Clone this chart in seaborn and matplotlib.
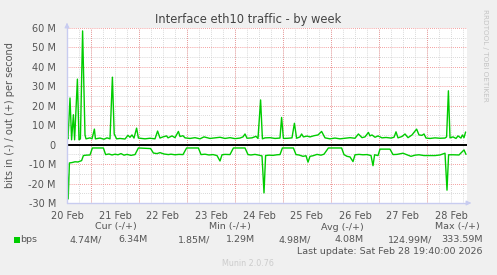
import matplotlib
matplotlib.use("Agg")
import matplotlib.pyplot as plt
import seaborn as sns
import pandas as pd
import numpy as np
from matplotlib.ticker import FixedLocator, FuncFormatter

# ---------------- data (hours since 20 Feb 00:00, Mbit/s) ----------------
out_hours = [12.0, 12.5, 13.5, 14.3, 15.2, 15.8, 17.2, 18.0, 18.7, 19.8, 21.0, 21.5, 23.5, 24.5,
             25.7, 26.2, 28.5, 30.5, 32.0, 33.5, 34.7, 35.6, 36.8, 38.5, 41.0, 42.5, 43.5, 44.5,
             45.5, 46.8, 47.7, 51.0, 53.5, 56.0, 57.3, 58.5, 60.0, 61.8, 62.5, 64.5, 66.0, 67.7,
             68.5, 70.0, 71.0, 73.5, 76.0, 78.5, 80.5, 83.5, 86.0, 88.5, 91.0, 93.5, 96.0, 98.5,
             100.0, 101.0, 102.0, 104.5, 106.5, 107.5, 108.8, 109.7, 111.0, 113.5, 116.0, 118.5,
             119.3, 120.2, 122.5, 124.5, 125.7, 126.8, 128.5, 129.3, 130.2, 132.0, 133.5, 135.5,
             137.5, 139.3, 141.0, 143.5, 146.0, 148.5, 151.0, 153.5, 156.0, 157.7, 159.5, 161.0,
             162.7, 163.5, 164.5, 166.0, 167.5, 169.5, 171.5, 174.0, 175.5, 176.5, 177.5, 179.5,
             181.0, 182.5, 184.5, 186.8, 188.0, 189.5, 190.5, 191.5, 193.5, 196.0, 198.5, 201.0,
             201.8, 202.7, 203.5, 205.0, 206.5, 207.5, 209.0, 209.7, 210.5, 211.3]
out_mbps = [4.3, 3.0, 24.0, 2.5, 15.4, 2.5, 33.7, 2.5, 3.0, 58.5, 5.0, 3.0, 3.5, 3.0,
            8.0, 3.0, 3.4, 2.8, 3.5, 3.0, 34.7, 5.5, 3.0, 3.2, 2.9, 4.8, 3.8, 5.0,
            3.4, 8.5, 3.4, 3.0, 3.3, 3.0, 7.0, 3.4, 4.0, 4.5, 3.5, 4.5, 3.6, 6.8,
            4.2, 4.6, 3.5, 3.2, 3.6, 3.0, 4.0, 3.2, 3.5, 3.8, 3.2, 3.6, 3.1, 3.4,
            4.0, 5.5, 3.3, 3.5, 4.3, 3.2, 23.0, 3.0, 3.5, 3.6, 3.2, 3.4,
            14.0, 3.2, 3.3, 3.5, 11.0, 3.3, 4.0, 5.5, 4.0, 4.4, 4.0, 4.6,
            5.0, 6.8, 3.5, 3.0, 3.4, 3.0, 3.3, 3.6, 3.3, 5.5, 3.6, 4.0,
            6.3, 4.5, 5.0, 3.8, 4.5, 3.5, 3.7, 3.4, 3.8, 6.6, 3.5, 4.2,
            5.5, 3.6, 5.0, 8.0, 5.0, 4.8, 5.5, 3.4, 3.2, 3.5, 3.3, 3.4,
            4.0, 27.7, 3.5, 4.0, 3.2, 4.5, 3.4, 5.0, 3.6, 6.5]

in_hours = [12.0, 12.6, 13.2, 14.5, 16.0, 17.5, 19.3, 20.2, 21.5, 23.5, 24.7, 30.2, 31.3, 33.0,
            34.5, 36.0, 37.5, 39.0, 40.5, 42.0, 44.0, 46.0, 47.7, 53.8, 55.2, 57.0, 58.5, 60.5,
            62.7, 64.0, 66.0, 68.0, 70.0, 71.8, 77.7, 79.0, 81.0, 83.0, 85.0, 87.0, 88.5, 89.5,
            91.0, 93.5, 95.2, 101.0, 102.5, 104.0, 106.0, 108.0, 109.5, 110.5, 111.3, 113.0,
            115.0, 117.0, 118.5, 119.7, 125.2, 126.5, 128.0, 130.0, 131.5, 132.5, 133.5, 135.0,
            137.0, 139.0, 140.5, 142.7, 149.3, 150.5, 152.0, 153.5, 155.0, 156.0, 158.0, 160.0,
            162.0, 164.0, 165.0, 165.8, 167.5, 168.5, 173.5, 175.0, 177.0, 180.0, 182.0, 184.0,
            186.0, 188.0, 190.5, 193.0, 196.0, 198.5, 201.0, 202.0, 202.8, 205.0, 208.0, 210.5,
            211.5]
in_mbps = [9.7, 27.9, 9.4, 9.2, 8.8, 8.9, 8.2, 5.6, 5.4, 5.3, 1.7, 1.7, 5.1, 4.8,
           5.3, 4.9, 5.2, 4.6, 5.4, 5.0, 5.5, 5.1, 1.7, 2.0, 4.3, 4.6, 4.1, 4.8,
           5.1, 4.9, 5.2, 5.0, 5.1, 1.7, 1.7, 5.1, 4.9, 5.3, 5.1, 5.6, 8.4, 5.2,
           5.0, 5.1, 1.7, 1.7, 5.1, 5.3, 5.0, 5.4, 5.8, 24.8, 5.6, 5.4,
           5.5, 5.2, 5.1, 1.7, 1.7, 5.1, 5.3, 6.0, 5.7, 9.0, 6.0, 5.7,
           5.0, 5.4, 4.9, 1.7, 1.7, 5.1, 6.0, 6.3, 8.7, 5.2, 5.0, 5.2,
           5.1, 5.6, 10.8, 5.2, 5.6, 2.3, 2.3, 5.1, 5.0, 4.4, 5.2, 6.0,
           5.4, 5.2, 5.6, 5.6, 5.6, 5.3, 4.4, 23.4, 5.2, 5.2, 5.3, 2.7,
           5.0]

day_labels = ["20 Feb", "21 Feb", "22 Feb", "23 Feb", "24 Feb", "25 Feb", "26 Feb", "27 Feb", "28 Feb"]
y_ticks = [-30, -20, -10, 0, 10, 20, 30, 40, 50, 60]

legend_headers = ["Cur (-/+)", "Min (-/+)", "Avg (-/+)", "Max (-/+)"]
legend_in = ["4.74M/", "1.85M/", "4.98M/", "124.99M/"]
legend_out = ["6.34M", "1.29M", "4.08M", "333.59M"]

# ---------------- style ----------------
sns.set_style("white")
plt.rcParams['font.family'] = ['DejaVu Sans']
BG = "#F0F0F0"
TXT = "#555555"
GREEN = "#00CC00"

W, H = 497, 275
fig = plt.figure(figsize=(W / 100, H / 100), dpi=100, facecolor=BG)
ax = fig.add_axes([67 / W, 1 - 203 / H, 400 / W, 175 / H])
ax.set_facecolor("white")

df_out = pd.DataFrame({"hour": out_hours, "mbps": out_mbps})
df_in = pd.DataFrame({"hour": in_hours, "mbps": [-v for v in in_mbps]})

# grid
minor_x = np.arange(12, 213, 6)
major_x = np.arange(24, 213, 24)
for xv in minor_x:
    ax.axvline(xv, color="#CCCCCC", lw=0.6, ls=(0, (1, 1.5)), zorder=0)
for yv in range(-25, 61, 10):
    ax.axhline(yv, color="#CCCCCC", lw=0.6, ls=(0, (1, 1.5)), zorder=0)
for xv in major_x:
    ax.axvline(xv, color="#F08080", lw=0.6, ls=(0, (1, 1.5)), zorder=0.5)
for yv in y_ticks:
    ax.axhline(yv, color="#F08080", lw=0.6, ls=(0, (1, 1.5)), zorder=0.5)

sns.lineplot(data=df_out, x="hour", y="mbps", ax=ax, color=GREEN, lw=1.0,
             estimator=None, sort=False, zorder=3)
sns.lineplot(data=df_in, x="hour", y="mbps", ax=ax, color=GREEN, lw=1.0,
             estimator=None, sort=False, zorder=3)
ax.axhline(0, color="black", lw=1.4, zorder=4)

ax.set_xlim(12, 212)
ax.set_ylim(-30, 60)
ax.xaxis.set_major_locator(FixedLocator([12 + 24 * i for i in range(len(day_labels))]))
ax.set_xticklabels(day_labels)
ax.yaxis.set_major_locator(FixedLocator(y_ticks))
ax.yaxis.set_major_formatter(FuncFormatter(lambda v, p: "0" if v == 0 else f"{int(v)} M"))
ax.tick_params(axis="both", length=0, labelsize=7, labelcolor=TXT)
ax.tick_params(axis="y", pad=8)
ax.tick_params(axis="x", pad=6)
ax.set_xlabel("")
ax.set_ylabel("")
for s in ax.spines.values():
    s.set_visible(False)

# axes with arrows
AX_COL = "#C8CCF0"
fig.add_artist(plt.Line2D([67 / W, 67 / W], [1 - 203 / H, 1 - 26 / H], transform=fig.transFigure,
                          color=AX_COL, lw=1.0))
fig.add_artist(plt.Line2D([67 / W, 468 / W], [1 - 203 / H, 1 - 203 / H], transform=fig.transFigure,
                          color=AX_COL, lw=1.0))
ax.annotate("", xy=(67, H - 20), xytext=(67, H - 28), xycoords="figure pixels",
            arrowprops=dict(arrowstyle="-|>", color=AX_COL, lw=0.8, mutation_scale=7))
ax.annotate("", xy=(474, H - 203), xytext=(466, H - 203), xycoords="figure pixels",
            arrowprops=dict(arrowstyle="-|>", color=AX_COL, lw=0.8, mutation_scale=7))

def ft(x, y, s, **kw):
    fig.text(x / W, 1 - y / H, s, **kw)

ft(248, 20, "Interface eth10 traffic - by week", ha="center", va="center", fontsize=8.3, color="#444444")
ft(10, 115, "bits in (-) / out (+) per second", ha="center", va="center", rotation=90,
   fontsize=7, color=TXT)
ft(485, 55, "RRDTOOL / TOBI OETIKER", ha="center", va="center", rotation=270,
   fontsize=5.2, color="#C4C4C4")

header_right = [136.7, 251, 364, 480]
in_right = [101.7, 210, 310.7, 432]
out_right = [147.3, 255, 363.3, 482.3]
for h, x in zip(legend_headers, header_right):
    ft(x, 227, h, ha="right", va="center", fontsize=6.8, color=TXT)
for v, x in zip(legend_in, in_right):
    ft(x, 240, v, ha="right", va="center", fontsize=6.8, color=TXT)
for v, x in zip(legend_out, out_right):
    ft(x, 240, v, ha="right", va="center", fontsize=6.8, color=TXT)
fig.add_artist(plt.Rectangle((14 / W, 1 - 243.3 / H), 6 / W, 6 / H, transform=fig.transFigure,
                             color=GREEN, lw=0))
ft(20.5, 240, "bps", ha="left", va="center", fontsize=6.8, color=TXT)
ft(482.3, 251, "Last update: Sat Feb 28 19:40:00 2026", ha="right", va="center", fontsize=6.8, color=TXT)
ft(248, 263, "Munin 2.0.76", ha="center", va="center", fontsize=5.8, color="#CCCCCC")

fig.savefig("out.png", dpi=100, facecolor=BG)
